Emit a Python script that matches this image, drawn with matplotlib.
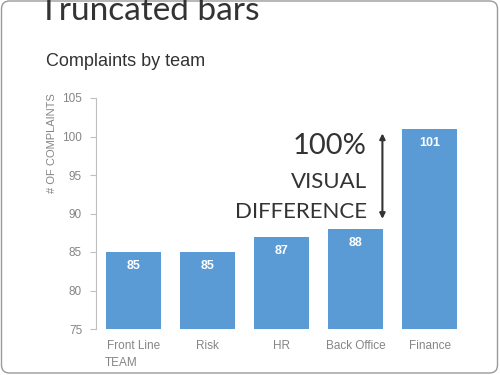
import matplotlib.pyplot as plt
import matplotlib.transforms as mtransforms
from matplotlib.patches import FancyBboxPatch

# data
teams = ['Front Line', 'Risk', 'HR', 'Back Office', 'Finance']
complaints = [85, 85, 87, 88, 101]
yticks = [75, 80, 85, 90, 95, 100, 105]

bar_color = '#5b9bd5'
gray = '#858585'

fig = plt.figure(figsize=(5, 3.75), dpi=100)
fig.patch.set_facecolor('white')

# rounded slide frame
frame = FancyBboxPatch((9.5, 10), 480, 356, boxstyle='round,pad=8',
                       transform=mtransforms.IdentityTransform(),
                       facecolor='none', edgecolor='#9a9a9a', linewidth=1.0)
fig.patches.append(frame)

# slide title (cut off at top like the screenshot)
fig.text(39 / 500, 1 - 20 / 375, 'Truncated bars', fontsize=24, color='#333333',
         family='Lato', va='baseline', ha='left')
fig.text(46 / 500, 1 - 66 / 375, 'Complaints by team', fontsize=13, color='#333333',
         family='Liberation Sans', va='baseline', ha='left')

ax = fig.add_axes([96 / 500, 46 / 375, 371 / 500, 231 / 375])
x = range(len(teams))
ax.bar(x, complaints, width=0.74, color=bar_color, bottom=0)
ax.set_ylim(75, 105)
ax.set_xlim(-0.5, 4.5)
ax.set_yticks(yticks)
ax.set_xticks(list(x))
ax.set_xticklabels(teams)

for s in ['top', 'right', 'bottom']:
    ax.spines[s].set_visible(False)
ax.spines['left'].set_color('#bfbfbf')
ax.tick_params(axis='y', colors='#bfbfbf', labelcolor=gray, labelsize=8.5, length=4, pad=6)
ax.tick_params(axis='x', length=0, labelcolor=gray, labelsize=8.5, pad=8)
for lab in ax.get_xticklabels() + ax.get_yticklabels():
    lab.set_family('Liberation Sans')

ax.set_ylabel('# OF COMPLAINTS', fontsize=8, color=gray, family='Liberation Sans')
ax.yaxis.set_label_coords(-0.105, 0.805)
ax.text(-0.38, 70.55, 'TEAM', fontsize=8.5, color=gray, family='Liberation Sans',
        ha='left', va='center', clip_on=False)

for i, v in enumerate(complaints):
    ax.text(i, v - 1.85, str(v), color='white', fontsize=9, fontweight='bold',
            family='Liberation Sans', ha='center', va='center')

# annotation
ax.text(3.15, 98.75, '100%', fontsize=21, color='#333333', family='Lato',
        ha='right', va='center')
ax.text(3.15, 94.15, 'VISUAL', fontsize=16, color='#333333', family='Lato',
        ha='right', va='center')
ax.text(3.15, 90.25, 'DIFFERENCE', fontsize=16, color='#333333', family='Lato',
        ha='right', va='center')
ax.annotate('', xy=(3.36, 100.4), xytext=(3.36, 89.3),
            arrowprops=dict(arrowstyle='<|-|>', color='#333333', lw=1.5,
                            mutation_scale=8, shrinkA=0, shrinkB=0))

fig.savefig('out.png', dpi=100)
